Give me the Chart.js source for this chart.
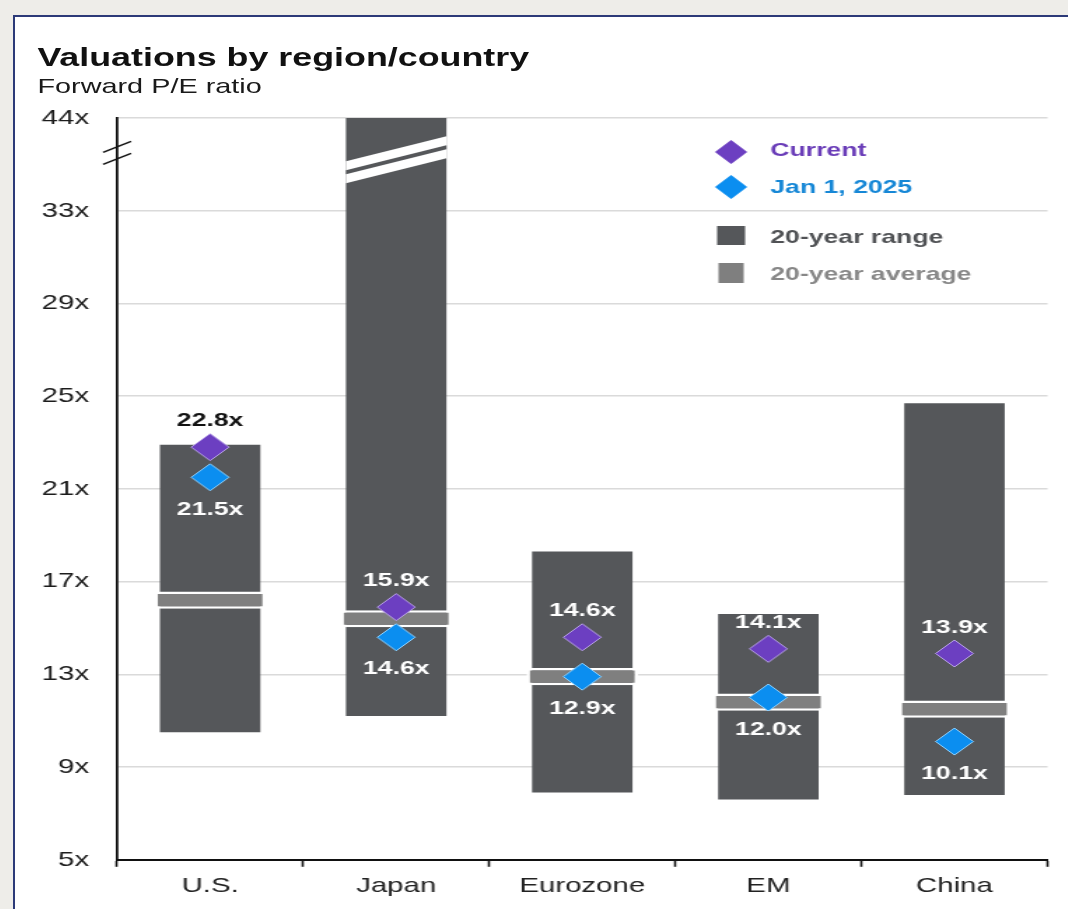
<!DOCTYPE html>
<html>
<head>
<meta charset="utf-8">
<title>Valuations by region/country</title>
<script src="https://cdn.jsdelivr.net/npm/chart.js@4.4.1/dist/chart.umd.min.js"></script>
<style>
  html, body { margin: 0; padding: 0; }
  body { width: 1068px; height: 909px; overflow: hidden; background: #eeede9; font-family: 'Liberation Sans', Arial, sans-serif; }
  #panel { position: absolute; left: 13px; top: 15px; width: 1100px; height: 950px; background: #fff;
           border-left: 2px solid #2c3a78; border-top: 2px solid #2c3a78; }
  /* the whole slide is drawn narrow and stretched sideways */
  #stage { position: absolute; left: 0; top: 0; width: 752px; height: 892px; transform: scaleX(1.4); transform-origin: 0 0; }
  #title { position: absolute; left: 16px; top: 28px; font-weight: bold; font-size: 25.6px; line-height: 25px; color: #111; white-space: nowrap; }
  #subtitle { position: absolute; left: 16px; top: 59px; font-size: 20.6px; line-height: 20px; color: #1a1a1a; white-space: nowrap; }
  #chart { position: absolute; left: 0; top: 0; }
</style>
</head>
<body>
<div id="panel">
  <div id="stage">
    <div id="title">Valuations by region/country</div>
    <div id="subtitle">Forward P/E ratio</div>
    <canvas id="chart" width="752" height="892"></canvas>
  </div>
</div>
<script>
var regions = ['U.S.', 'Japan', 'Eurozone', 'EM', 'China'];
var rangeLow = [10.5, 11.2, 7.9, 7.6, 7.8];
var rangeHigh = [22.9, 44, 18.3, 15.6, 24.7];
var average = [16.2, 15.4, 12.9, 11.8, 11.5];
var current = [22.8, 15.9, 14.6, 14.1, 13.9];
var jan2025 = [21.5, 14.6, 12.9, 12.0, 10.1];
var yTicks = [5, 9, 13, 17, 21, 25, 29, 33, 44];

var RANGE_COLOR = '#55575a';
var AVG_COLOR = '#7f7f7f';
var PURPLE = '#6c3fc1';
var BLUE = '#0b8ef0';
var AVG_HALF = 0.37;   // half thickness of the average marker, in axis units

// y axis is broken above 33x: 33..44 gets squeezed into one tick step
var BREAK_FROM = 33, BREAK_TO = 44, STEP = 4;
function toAxis(v) {
	if (v <= BREAK_FROM) return v;
	return BREAK_FROM + (v - BREAK_FROM) * STEP / (BREAK_TO - BREAK_FROM);
}

Chart.defaults.font.family = "'Liberation Sans', Arial, sans-serif";

function diamond(ctx, x, y, rx, ry, fill, stroke) {
	ctx.beginPath();
	ctx.moveTo(x - rx, y);
	ctx.lineTo(x, y - ry);
	ctx.lineTo(x + rx, y);
	ctx.lineTo(x, y + ry);
	ctx.closePath();
	ctx.fillStyle = fill;
	ctx.fill();
	if (stroke) {
		ctx.strokeStyle = stroke;
		ctx.lineWidth = 1;
		ctx.stroke();
	}
}

var valueLabels = {
	id: 'valueLabels',
	afterDatasetsDraw: function(chart) {
		var ctx = chart.ctx;
		var y = chart.scales.y;
		ctx.save();
		ctx.font = 'bold 19px ' + Chart.defaults.font.family;
		ctx.textAlign = 'center';
		ctx.textBaseline = 'middle';
		[[0, current, -26], [1, jan2025, 32]].forEach(function(s) {
			var meta = chart.getDatasetMeta(s[0]);
			meta.data.forEach(function(pt, i) {
				var ly = pt.y + s[2];
				var top = y.getPixelForValue(toAxis(rangeHigh[i]));
				var bottom = y.getPixelForValue(toAxis(rangeLow[i]));
				ctx.fillStyle = (ly - 8 < top || ly + 8 > bottom) ? '#111' : '#fff';
				ctx.fillText(s[1][i].toFixed(1) + 'x', pt.x, ly);
			});
		});
		ctx.restore();
	}
};

var axisBreaks = {
	id: 'axisBreaks',
	afterDatasetsDraw: function(chart) {
		var ctx = chart.ctx;
		var y = chart.scales.y;
		var area = chart.chartArea;

		// cut through the Japan bar
		var bar = chart.getDatasetMeta(3).data[1];
		var l = bar.x - bar.width / 2, r = bar.x + bar.width / 2;
		var c = y.getPixelForValue(35.2);
		var k = 12.5;
		function band(h, color) {
			ctx.beginPath();
			ctx.moveTo(l, c + k - h);
			ctx.lineTo(r, c - k - h);
			ctx.lineTo(r, c - k + h);
			ctx.lineTo(l, c + k + h);
			ctx.closePath();
			ctx.fillStyle = color;
			ctx.fill();
		}
		ctx.save();
		band(11, '#fff');
		band(2, RANGE_COLOR);

		// slashes on the y axis
		var ax = area.left;
		var yc = y.getPixelForValue(35.5);
		ctx.strokeStyle = '#111';
		ctx.lineWidth = 1.4;
		[-6, 6].forEach(function(off) {
			ctx.beginPath();
			ctx.moveTo(ax - 10, yc + off + 5.5);
			ctx.lineTo(ax + 10, yc + off - 5.5);
			ctx.stroke();
		});
		ctx.restore();
	}
};

var sideLegend = {
	id: 'sideLegend',
	afterDraw: function(chart) {
		var ctx = chart.ctx;
		var area = chart.chartArea;
		var x = area.right - 226;
		var y0 = area.top;
		var tx = x + 28;
		ctx.save();
		ctx.font = 'bold 19px ' + Chart.defaults.font.family;
		ctx.textBaseline = 'middle';
		ctx.textAlign = 'left';

		diamond(ctx, x, y0 + 34, 11.5, 12, PURPLE);
		ctx.fillStyle = '#6a3db8';
		ctx.fillText('Current', tx, y0 + 33);

		diamond(ctx, x, y0 + 69, 11.5, 12, BLUE);
		ctx.fillStyle = '#1687d6';
		ctx.fillText('Jan 1, 2025', tx, y0 + 70);

		ctx.fillStyle = RANGE_COLOR;
		ctx.fillRect(x - 10, y0 + 108, 20, 19);
		ctx.fillStyle = '#505255';
		ctx.fillText('20-year range', tx, y0 + 120);

		ctx.fillStyle = AVG_COLOR;
		ctx.fillRect(x - 9, y0 + 145, 18, 20);
		ctx.fillStyle = '#878787';
		ctx.fillText('20-year average', tx, y0 + 157);
		ctx.restore();
	}
};

new Chart(document.getElementById('chart'), {
	type: 'bar',
	data: {
		labels: regions,
		datasets: [{
			type: 'line',
			label: 'Current',
			data: current.map(toAxis),
			showLine: false,
			pointStyle: 'rectRot',
			pointRadius: 13.5,
			pointBackgroundColor: PURPLE,
			pointBorderColor: '#b9a3e8',
			pointBorderWidth: 1,
			order: 1
		}, {
			type: 'line',
			label: 'Jan 1, 2025',
			data: jan2025.map(toAxis),
			showLine: false,
			pointStyle: 'rectRot',
			pointRadius: 13.5,
			pointBackgroundColor: BLUE,
			pointBorderColor: '#8fd2ff',
			pointBorderWidth: 1,
			order: 2
		}, {
			label: '20-year average',
			data: average.map(function(v) { return [toAxis(v) - AVG_HALF, toAxis(v) + AVG_HALF]; }),
			backgroundColor: AVG_COLOR,
			borderColor: '#fff',
			borderWidth: 2.5,
			borderSkipped: false,
			grouped: false,
			categoryPercentage: 1,
			barPercentage: 0.6,
			order: 3
		}, {
			label: '20-year range',
			data: regions.map(function(r, i) { return [toAxis(rangeLow[i]), toAxis(rangeHigh[i])]; }),
			backgroundColor: RANGE_COLOR,
			borderWidth: 0,
			grouped: false,
			categoryPercentage: 1,
			barPercentage: 0.54,
			order: 4
		}]
	},
	options: {
		responsive: false,
		animation: false,
		devicePixelRatio: 1,
		layout: { padding: { top: 101, right: 14, bottom: 3, left: 0 } },
		plugins: {
			legend: { display: false },
			tooltip: { enabled: false }
		},
		scales: {
			x: {
				offset: true,
				grid: { offset: true, drawOnChartArea: false, drawTicks: true, tickLength: 7, tickColor: '#111', tickWidth: 1.6 },
				border: { color: '#111', width: 2 },
				ticks: { color: '#222', padding: 7, font: { size: 21 } }
			},
			y: {
				min: toAxis(5),
				max: toAxis(44),
				afterBuildTicks: function(scale) {
					scale.ticks = yTicks.map(function(v) { return { value: toAxis(v) }; });
				},
				afterFit: function(scale) { scale.width = 72.9; },
				grid: { color: '#dadada', lineWidth: 1.5, drawTicks: false },
				border: { color: '#111', width: 1.8 },
				ticks: {
					color: '#1c1c1c',
					padding: 20,
					font: { size: 21 },
					callback: function(value, index) { return yTicks[index] + 'x'; }
				}
			}
		}
	},
	plugins: [valueLabels, axisBreaks, sideLegend]
});
</script>
</body>
</html>
